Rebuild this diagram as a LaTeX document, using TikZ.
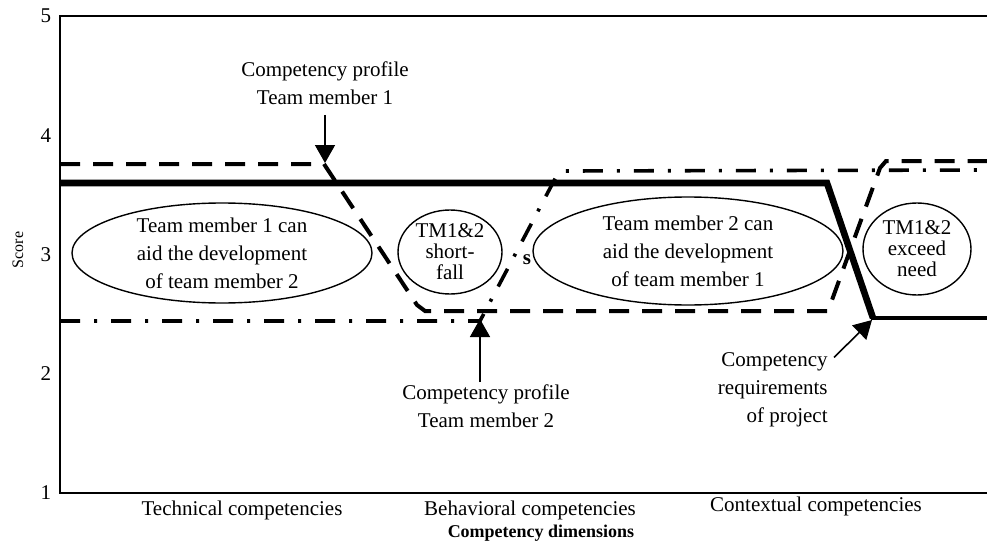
\documentclass[tikz,border=0pt]{standalone}
\usepackage{fontspec}
\setmainfont{Liberation Serif}
\usepackage{tikz}
\usetikzlibrary{arrows.meta}
\usetikzlibrary{shapes.geometric}

\tikzset{
  txt/.style={align=center, font=\fontsize{10.5}{14}\selectfont, inner sep=1pt},
  tight/.style={txt, font=\fontsize{10.5}{10.5}\selectfont},
  blob/.style={ellipse, draw, line width=0.7pt, inner sep=0pt},
  require/.style={line width=3.3pt},
  memberone/.style={line width=2pt, dash pattern=on 10pt off 6.5pt},
  membertwo/.style={line width=1.8pt, dash pattern=on 10pt off 7pt on 1.5pt off 7pt},
  pointer/.style={->, line width=0.8pt}
}

\begin{document}
\begin{tikzpicture}[x=0.5pt,y=-0.5pt,>={Triangle[width=10pt,length=9pt]}]
      \useasboundingbox (0,0) rectangle (987,546);

      \coordinate (o) at (60,493);
      \coordinate (top) at (60,16);

      \draw[line width=0.8pt] (987,16) -- (top) -- (o) -- (987,493);

      \foreach \s in {1,...,5}
        \node[txt] (tick\s) at (46,{493-119.25*(\s-1)}) {\s};

      \node[txt, rotate=90, font=\fontsize{8}{10}\selectfont] (score) at (18,250) {Score};

      \node[txt] (tech) at (242,510) {Technical competencies};
      \node[txt] (behav) at (530,510) {Behavioral competencies};
      \node[txt] (context) at (816,506) {Contextual competencies};
      \node[txt, font=\bfseries\fontsize{9}{11}\selectfont] (dims) at (541,533) {Competency dimensions};

      \draw[require] (60,183) -- (827,183) -- (873,318);
      \draw[require, line width=2.2pt] (871,318) -- (987,318);

      \draw[memberone] (60,164) -- (324,164) -- (417,305) -- (425,311) -- (828,311) -- (880,168) -- (886,161) -- (987,161);
      \draw[membertwo] (60,321) -- (480,321) -- (556,177) -- (563,171) -- (987,170);

      \node[blob, minimum width=150pt, minimum height=50pt] (aid1) at (222,253) {};
      \node[txt] (aid1txt) at (aid1) {Team member 1 can\\aid the development\\of team member 2};

      \node[blob, minimum width=52pt, minimum height=42pt] (short) at (450,252) {};
      \node[tight] (shorttxt) at (short) {TM1\&2\\short-\\fall};

      \node[blob, minimum width=155pt, minimum height=54pt] (aid2) at (688,251) {};
      \node[txt] (aid2txt) at (aid2) {Team member 2 can\\aid the development\\of team member 1};

      \node[blob, minimum width=54pt, minimum height=46pt] (exceed) at (917,249) {};
      \node[tight] (exceedtxt) at (exceed) {TM1\&2\\exceed\\need};

      \node[txt, font=\bfseries\fontsize{10.5}{12}\selectfont] (s) at (527,260) {s};

      \coordinate (tip1) at (325,163);
      \node[txt] (prof1) at (325,83) {Competency profile\\Team member 1};
      \draw[pointer, shorten <=4pt] (prof1.south) -- (tip1);

      \coordinate (tip2) at (480,319);
      \node[txt] (prof2) at (486,406) {Competency profile\\Team member 2};
      \draw[pointer] (prof2.north -| tip2) -- (tip2);

      \coordinate (tip3) at (872,320);
      \node[txt, align=right, anchor=east] (req) at (830,390) {Competency\\requirements\\of project};
      \draw[pointer] ([shift={(4,7)}]req.north east) -- (tip3);
    \end{tikzpicture}
\end{document}
